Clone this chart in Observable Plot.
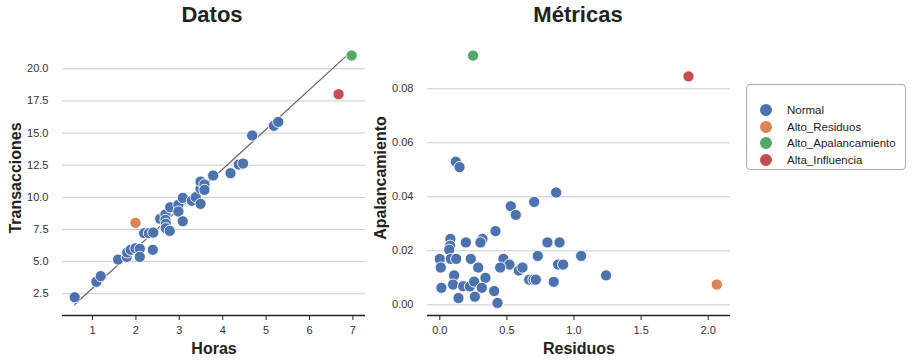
<!DOCTYPE html>
<html><head><meta charset="utf-8">
<script src="https://cdn.jsdelivr.net/npm/d3@7"></script>
<script src="https://cdn.jsdelivr.net/npm/@observablehq/plot@0.6"></script>
<style>
body{margin:0;background:#fff;font-family:"Liberation Sans",Arial,sans-serif;}
#wrap{position:relative;width:913px;height:364px;overflow:hidden;}
.title{position:absolute;top:2px;font-weight:bold;font-size:22px;color:#222;text-align:center;}
.panel{position:absolute;top:40px;}
#legend{position:absolute;left:746px;top:84px;width:160px;height:86px;border:1px solid #aaa;border-radius:4px;box-sizing:border-box;font-size:11.5px;color:#222;}
#legend .row{position:absolute;left:0;height:16px;line-height:16px;}
#legend .dot{position:absolute;left:13px;top:2px;width:12px;height:12px;border-radius:50%;}
#legend .lab{position:absolute;left:40px;white-space:nowrap;}
</style></head>
<body><div id="wrap">
<div class="title" style="left:112px;width:200px;">Datos</div>
<div class="title" style="left:478px;width:200px;">Métricas</div>
<div class="panel" id="left" style="left:0px;"></div>
<div class="panel" id="right" style="left:370px;"></div>
<div id="legend"></div>
</div>
<script>
// Left panel data
const horas = [0.59,1.09,1.19,1.59,1.79,1.80,1.88,1.99,2.09,2.09,2.39,2.19,2.30,2.40,2.56,2.68,2.68,2.69,2.69,2.78,2.79,2.98,2.98,3.08,3.08,3.29,3.38,3.49,3.49,3.49,3.58,3.58,3.78,4.18,4.37,4.47,4.68,5.18,5.28,1.99,6.97,6.67];
const transacciones = [2.23,3.43,3.87,5.16,5.37,5.71,5.92,6.04,6.00,5.37,5.92,7.21,7.21,7.26,8.33,8.66,8.25,7.94,7.60,7.39,9.23,9.42,8.90,8.14,9.96,9.73,10.01,9.49,10.68,11.23,11.00,10.58,11.70,11.88,12.55,12.63,14.81,15.56,15.87,8.02,21.03,18.02];
const tipoDatos = [...Array(39).fill("Normal"),"Alto_Residuos","Alto_Apalancamiento","Alta_Influencia"];

// Fitted line
const recta = {pendiente:3.09, intercepto:-0.16};

// Right panel data
const residuos = [0.119,0.147,0.867,0.703,0.529,0.566,0.415,0.079,0.077,0.070,0.194,0.318,0.303,0.802,0.892,0.000,0.007,0.082,0.122,0.231,0.474,0.519,0.730,1.053,0.286,0.450,0.589,0.616,0.882,0.919,1.239,0.107,0.340,0.012,0.099,0.174,0.224,0.256,0.313,0.405,0.139,0.261,0.430,0.666,0.698,0.715,0.849,2.064,0.248,1.853];
const apalancamiento = [0.0530,0.0510,0.0416,0.0381,0.0365,0.0333,0.0273,0.0244,0.0219,0.0204,0.0231,0.0244,0.0231,0.0231,0.0231,0.0170,0.0138,0.0170,0.0170,0.0170,0.0170,0.0149,0.0181,0.0181,0.0138,0.0138,0.0127,0.0138,0.0149,0.0149,0.0109,0.0109,0.0100,0.0063,0.0075,0.0069,0.0068,0.0086,0.0063,0.0051,0.0025,0.0030,0.0007,0.0093,0.0093,0.0093,0.0085,0.0075,0.0923,0.0846];
const tipoMetricas = [...Array(47).fill("Normal"),"Alto_Residuos","Alto_Apalancamiento","Alta_Influencia"];

const categorias = ["Normal","Alto_Residuos","Alto_Apalancamiento","Alta_Influencia"];
const colores = ["#4C72B0","#DD8452","#55A868","#C44E52"];
const xTicksIzq = [1,2,3,4,5,6,7];
const yTicksIzq = [2.5,5,7.5,10,12.5,15,17.5,20];
const xTicksDer = [0,0.5,1,1.5,2];
const yTicksDer = [0,0.02,0.04,0.06,0.08];

const datos = horas.map((h,i)=>({x:h,y:transacciones[i],t:tipoDatos[i]}));
const metricas = residuos.map((r,i)=>({x:r,y:apalancamiento[i],t:tipoMetricas[i]}));
const lineaAjuste = d3.extent(horas).map(h=>({x:h, y:recta.intercepto + recta.pendiente*h}));

const common = {
  height:324, marginTop:0, marginBottom:49,
  style:{fontFamily:"Liberation Sans, Arial, sans-serif", fontSize:"11px", color:"#333", background:"transparent", overflow:"visible"},
  color:{domain:categorias, range:colores}
};

function panel(data, opts){
  return Plot.plot({
    ...common,
    width:opts.width, marginLeft:opts.ml, marginRight:opts.mr,
    x:{domain:opts.xd, ticks:opts.xt, tickFormat:opts.xf, label:null},
    y:{domain:opts.yd, ticks:opts.yt, tickFormat:opts.yf, label:null},
    marks:[
      Plot.gridY(opts.yt,{stroke:"#cccccc", strokeOpacity:1, strokeWidth:1}),
      Plot.axisY(opts.yt,{tickSize:0, tickPadding:14, tickFormat:opts.yf, label:null, fontSize:11}),
      Plot.axisX(opts.xt,{tickSize:5, tickPadding:6, tickFormat:opts.xf, label:null, stroke:"#222", fontSize:11}),
      Plot.ruleY([opts.yd[0]],{stroke:"#222", strokeWidth:1.3}),
      ...(opts.extra||[]),
      Plot.dot(data,{x:"x", y:"y", fill:"t", r:5.6, stroke:"white", strokeWidth:0.9}),
      Plot.text([opts.xl],{frameAnchor:"bottom", dy:38, fontSize:16, fontWeight:"bold", fill:"#222"}),
      Plot.text([opts.yl],{frameAnchor:"left", textAnchor:"middle", dx:-47, rotate:-90, fontSize:16, fontWeight:"bold", fill:"#222"})
    ]
  });
}

document.getElementById("left").append(panel(datos,{
  width:372, ml:62, mr:7, xd:[0.309,7.29], yd:[0.81,22.2],
  xt:xTicksIzq, yt:yTicksIzq, xf:d3.format("d"), yf:d3.format(".1f"),
  xl:"Horas", yl:"Transacciones",
  extra:[Plot.line(lineaAjuste,{x:"x", y:"y", stroke:"#666", strokeWidth:1.2})]
}));

document.getElementById("right").append(panel(metricas,{
  width:362, ml:57, mr:2, xd:[-0.0917,2.166], yd:[-0.00396,0.0979],
  xt:xTicksDer, yt:yTicksDer, xf:d3.format(".1f"), yf:d3.format(".2f"),
  xl:"Residuos", yl:"Apalancamiento"
}));

const leg = document.getElementById("legend");
categorias.forEach((c,i)=>{
  const row = document.createElement("div");
  row.className="row"; row.style.top=(17+i*16.5)+"px";
  row.innerHTML=`<span class="dot" style="background:${colores[i]}"></span><span class="lab">${c}</span>`;
  leg.append(row);
});
</script>
</body></html>
